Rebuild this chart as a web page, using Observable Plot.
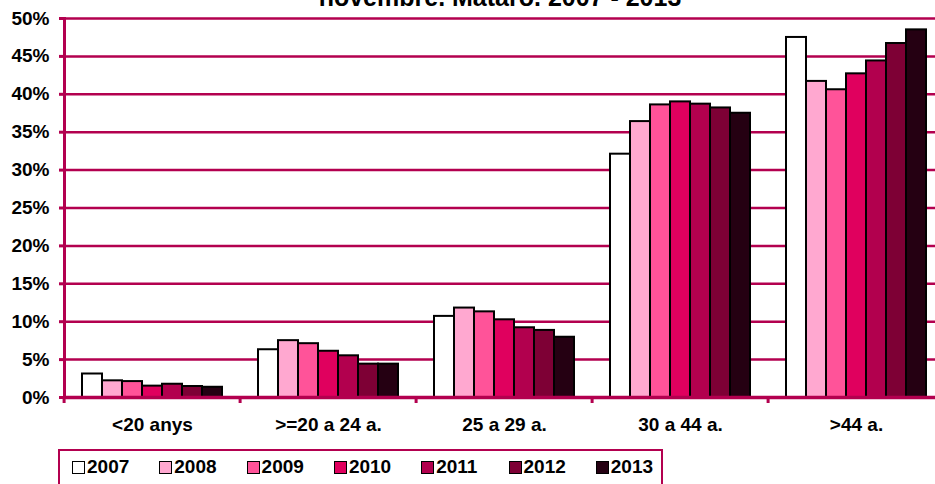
<!DOCTYPE html>
<html>
<head>
<meta charset="utf-8">
<script src="https://cdn.jsdelivr.net/npm/d3@7"></script>
<script src="https://cdn.jsdelivr.net/npm/@observablehq/plot@0.6"></script>
<style>
html, body { margin: 0; padding: 0; background: #fff; overflow: hidden; width: 935px; height: 484px; }
#wrap { position: relative; width: 935px; height: 484px; overflow: hidden; font-family: "Liberation Sans", Arial, sans-serif; }
#title { position: absolute; left: 0; width: 1000px; text-align: center; top: -18px; font-size: 25px; font-weight: bold; line-height: 30px; white-space: nowrap; }
#chart { position: absolute; left: 0; top: 0; width: 946px; }
#chart svg { max-width: none !important; }
#legend { position: absolute; left: 58px; top: 449px; width: 605px; height: 44px; border: 2px solid #b3004f; box-sizing: border-box; }
#legend .item { position: absolute; top: 5px; display: flex; align-items: center; font-size: 19px; font-weight: bold; line-height: 22px; }
#legend .sw { width: 11px; height: 11px; border: 1.5px solid #000; margin-right: 2px; }
</style>
</head>
<body>
<div id="wrap">
  <div id="chart"></div>
  <div id="title">novembre. Mataró. 2007 - 2013</div>
  <div id="legend"></div>
</div>
<script>
const categories = ["<20 anys", ">=20 a 24 a.", "25 a 29 a.", "30 a 44 a.", ">44 a."];
const years = ["2007", "2008", "2009", "2010", "2011", "2012", "2013"];
const v2007 = [3.1, 6.3, 10.7, 32.1, 47.5];
const v2008 = [2.2, 7.5, 11.8, 36.4, 41.7];
const v2009 = [2.1, 7.1, 11.3, 38.6, 40.6];
const v2010 = [1.5, 6.1, 10.25, 39.0, 42.7];
const v2011 = [1.75, 5.5, 9.2, 38.7, 44.4];
const v2012 = [1.45, 4.4, 8.85, 38.2, 46.7];
const v2013 = [1.35, 4.4, 7.95, 37.5, 48.5];
const yTicks = [0, 5, 10, 15, 20, 25, 30, 35, 40, 45, 50];
const colors = ["#ffffff", "#ffa8d0", "#ff5399", "#e0005e", "#b2004e", "#7e0035", "#250012"];

const series = [v2007, v2008, v2009, v2010, v2011, v2012, v2013];
const data = [];
years.forEach((yr, i) => categories.forEach((c, j) => data.push({cat: c, year: yr, value: series[i][j]})));

const crimson = "#b3004f";
const W = 946, ML = 62, MR = 0;
const fw = (W - ML - MR) / categories.length;

const chart = Plot.plot({
  width: W,
  height: 447,
  marginLeft: ML,
  marginRight: MR,
  marginTop: 18,
  marginBottom: 50,
  style: {fontFamily: "Liberation Sans, Arial, sans-serif", fontSize: "19px", fontWeight: "bold", color: "#000", background: "#fff", overflow: "visible", maxWidth: "none"},
  fx: {domain: categories, padding: 0, axis: null, label: null},
  x: {domain: years, paddingInner: 0, paddingOuter: 0.75, axis: null, label: null},
  y: {domain: [0, 50], axis: null, label: null},
  color: {domain: years, range: colors},
  marks: [
    Plot.gridY(yTicks, {stroke: crimson, strokeOpacity: 1, strokeWidth: 2.5}),
    Plot.barY(data, {fx: "cat", x: "year", y: "value", fill: "year", stroke: "#000", strokeWidth: 2}),
    Plot.ruleY([0], {stroke: crimson, strokeWidth: 3.5}),
    Plot.frame({anchor: "left", facetAnchor: "left", stroke: crimson, strokeWidth: 3}),
    Plot.axisY(yTicks, {anchor: "left", facetAnchor: "left", label: null, tickSize: 5, tickPadding: 10, tickFormat: d => d + "%", stroke: crimson, strokeWidth: 3, fill: "#000"}),
    Plot.axisFx({anchor: "bottom", label: null, tickSize: 0, tickPadding: 20, fill: "#000"}),
    Plot.axisFx({anchor: "bottom", label: null, tickSize: 6, text: null, dx: -fw / 2, stroke: crimson, strokeWidth: 3})
  ]
});
document.getElementById("chart").appendChild(chart);

const legend = d3.select("#legend");
years.forEach((yr, i) => {
  const it = legend.append("div").attr("class", "item").style("left", (12 + i * 87.3) + "px");
  it.append("div").attr("class", "sw").style("background", colors[i]);
  it.append("span").text(yr);
});
</script>
</body>
</html>
